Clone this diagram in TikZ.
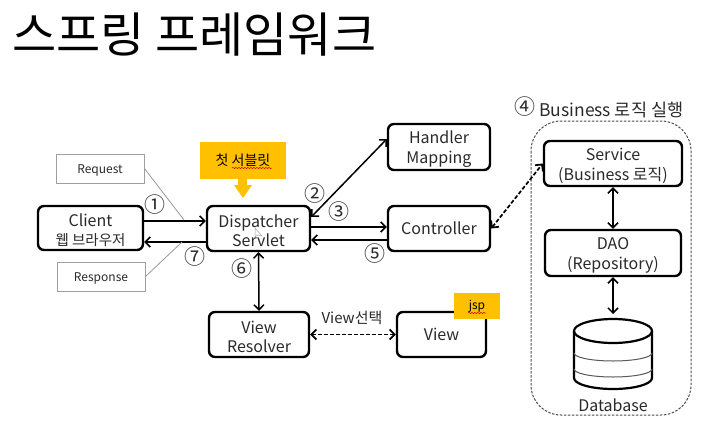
\documentclass[tikz,border=0pt]{standalone}
\usepackage{fontspec}
\setmainfont{Noto Sans CJK KR}
\usetikzlibrary{arrows.meta,decorations.pathmorphing}
\definecolor{tx}{HTML}{2A2A2A}
\definecolor{amber}{HTML}{FFC000}
\newcommand{\dropline}{\rule{0pt}{17pt}}
\tikzset{
  x=1pt,y=-1pt,
  box/.style={draw=black,line width=2.4pt,rounded corners=6pt,align=center,inner sep=0pt,text=tx,font=\fontsize{16}{19.5}\selectfont},
  note/.style={draw=gray!75,line width=1pt,inner sep=0pt,text=tx,font=\fontsize{12}{14}\selectfont,execute at begin node={\rule{0pt}{12.5pt}}},
  num/.style={text=tx,inner sep=0pt,font=\fontsize{21}{24}\selectfont},
  lab/.style={text=tx,inner sep=0pt,font=\fontsize{17.5}{20}\selectfont},
  flag/.style={fill=amber,inner sep=0pt,text=black},
  arr/.style={draw=black,line width=1.5pt,-{Straight Barb[length=5pt,width=10pt]}},
  both/.style={draw=black,line width=1.5pt,{Straight Barb[length=5pt,width=10pt]}-{Straight Barb[length=5pt,width=10pt]}},
  dash2/.style={both,line width=1.7pt,dash pattern=on 4pt off 2pt},
  lead/.style={draw=gray!80,line width=.8pt},
  squig/.style={draw=red!80!black,line width=.5pt,decorate,decoration={snake,amplitude=.6pt,segment length=3pt}}
}
\begin{document}
\begin{tikzpicture}
\useasboundingbox (0,0) rectangle (723,434);
\fill[white] (0,0) rectangle (723,434);
\node[anchor=west,inner sep=0pt,font=\fontsize{48}{52}\selectfont] (title) at (12,35) {스프링 프레임워크};

\node[box,minimum width=105pt,minimum height=44pt] (client) at (90.5,228) {\dropline Client\\{\fontsize{14.5}{17}\selectfont 웹 브라우저}};
\node[box,minimum width=103pt,minimum height=45pt] (disp) at (258.5,228.5) {\dropline Dispatcher\\Servlet};
\node[box,minimum width=102pt,minimum height=46pt] (hm) at (439,147) {\dropline Handler\\Mapping};
\node[box,minimum width=102pt,minimum height=45pt] (ctrl) at (439,228.5) {Controller};
\node[box,minimum width=100pt,minimum height=45pt] (vr) at (259,334.5) {\dropline View\\Resolver};
\node[box,minimum width=89pt,minimum height=45pt] (view) at (441.5,334.5) {View};
\node[box,minimum width=138pt,minimum height=45pt] (svc) at (613,163.5) {\dropline Service\\(Business 로직)};
\node[box,minimum width=136pt,minimum height=46pt] (dao) at (613,253) {\dropline DAO\\(Repository)};

\node[note,minimum width=88pt,minimum height=29pt] (req) at (100,168.5) {Request};
\node[note,minimum width=88pt,minimum height=29pt] (resp) at (101,276.5) {Response};

\draw[gray!60!black,line width=1pt,dash pattern=on 2.5pt off 1.5pt,rounded corners=30pt] (531,121) rectangle (691,415);

% database
\draw[black,line width=2.2pt] (574,331) -- (574,378) arc[start angle=180,end angle=360,x radius=39,y radius=-11] -- (652,331);
\draw[black,line width=2.2pt] (613,331) ellipse[x radius=39,y radius=12];
\draw[gray!70!black,line width=1pt] (574,353) arc[start angle=180,end angle=360,x radius=39,y radius=-8];
\draw[gray!70!black,line width=1pt] (574,369) arc[start angle=180,end angle=360,x radius=39,y radius=-8];
\node[lab,font=\fontsize{16}{19}\selectfont] (dbt) at (613,405) {Database};
\coordinate (dbtop) at (613,314);

% connectors
\draw[arr] (client.east |- 0,221) -- (disp.west |- 0,221);
\draw[arr] (disp.west |- 0,242) -- (client.east |- 0,242);
\draw[both] (disp.east |- 0,217) -- (hm.west |- 0,139);
\draw[arr] (disp.east |- 0,227) -- (ctrl.west |- 0,227);
\draw[arr] (ctrl.west |- 0,240) -- (disp.east |- 0,240);
\draw[both] (disp.south) -- (vr.north);
\draw[dash2] (vr.east) -- (view.west);
\draw[dash2] (ctrl.east) -- (svc.west);
\draw[both] (svc.south) -- (dao.north);
\draw[both] (dao.south) -- (dbtop);
\draw[lead] (req.east) -- (184,220);
\draw[lead] (resp.east) -- (182,242);

% numbers
\node[num] (n1) at (155,205) {①};
\node[num] (n2) at (315,194) {②};
\node[num] (n3) at (339,212) {③};
\node[num] (n4) at (525,107) {④};
\node[num] (n5) at (375,254) {⑤};
\node[num] (n6) at (242,269) {⑥};
\node[num] (n7) at (195,257) {⑦};
\node[lab,anchor=west] (biz) at (539,110) {Business 로직 실행};
\node[lab,font=\fontsize{15}{18}\selectfont] (vs) at (352,318) {View선택};

% flags
\node[flag,minimum width=86pt,minimum height=37pt,font=\fontsize{14}{17}\selectfont] (first) at (243,160.5) {첫 서블릿};
\fill[amber] (238,179) -- (247,179) -- (247,185) -- (252,185) -- (243,198) -- (234,185) -- (238,185) -- cycle;
\node[flag,minimum width=46pt,minimum height=26pt,font=\fontsize{12}{14}\selectfont] (jsp) at (477,306) {jsp};
\draw[squig] (232,168) -- (272,168);
\draw[squig] (468,313) -- (486,313);
% mouse pointer
\draw[gray!70,fill=white,line width=.5pt] (255,228) -- (255,237) -- (257.5,235) -- (262,236) -- cycle;
\end{tikzpicture}
\end{document}
